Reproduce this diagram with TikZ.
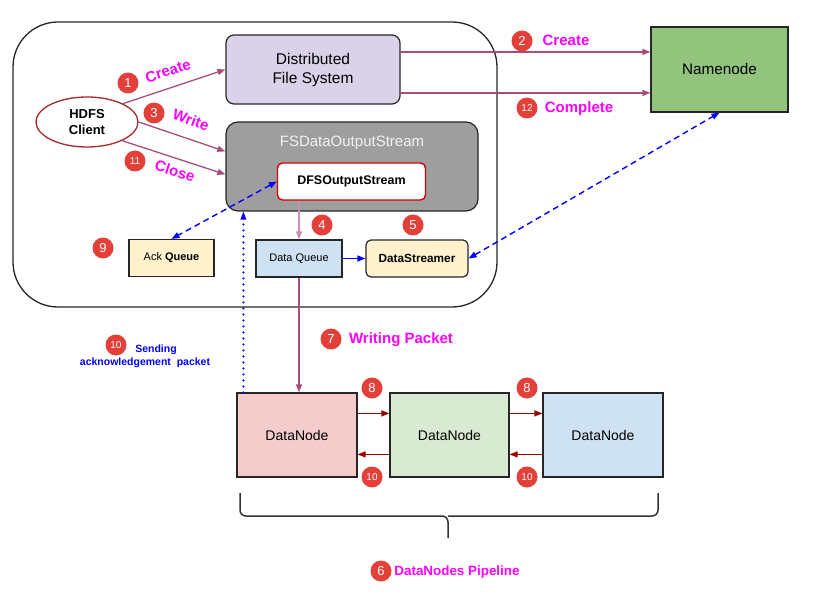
\documentclass[tikz,border=0pt]{standalone}
\usepackage{fontspec}
\setmainfont{Liberation Sans}
\usetikzlibrary{shapes.geometric,arrows.meta,calc}
\definecolor{mauve}{HTML}{A64D79}
\definecolor{lmauve}{HTML}{C98FB2}
\definecolor{badgered}{HTML}{E3403A}
\definecolor{lav}{HTML}{D9D2E9}
\definecolor{nngreen}{HTML}{93C47D}
\definecolor{yel}{HTML}{FFF2CC}
\definecolor{lblue}{HTML}{CFE2F3}
\definecolor{lred}{HTML}{F4CCCC}
\definecolor{lgreen}{HTML}{D9EAD3}
\definecolor{dred}{HTML}{990000}
\definecolor{ellred}{HTML}{A52A2A}
\definecolor{fsgray}{HTML}{9E9E9E}
\definecolor{magent}{HTML}{FF00FF}
\begin{document}
\begin{tikzpicture}[x=1pt,y=-1pt,
  box/.style={draw=black!85,line width=1.2pt,inner sep=0pt},
  badge/.style={circle,fill=badgered,text=white,inner sep=0pt,minimum size=21pt,font=\fontsize{13}{13}\selectfont},
  sbadge/.style={badge,font=\fontsize{10}{10}\selectfont},
  lbl/.style={text=magent,font=\bfseries\fontsize{15}{15}\selectfont,inner sep=0pt},
  marrow/.style={draw=mauve,line width=1.3pt,-{Triangle[length=8pt,width=6pt]}},
  barrow/.style={draw=blue,line width=1.4pt,dash pattern=on 6pt off 4pt,{Triangle[length=8pt,width=6pt]}-{Triangle[length=8pt,width=6pt]}},
  rarrow/.style={draw=dred,line width=1.3pt,-{Triangle[length=8pt,width=6pt]}}
]
\useasboundingbox (0,0) rectangle (819,604);
% outer frame
\node[draw=black!85,line width=1.3pt,rounded corners=45pt,minimum width=484pt,minimum height=285pt] (outer) at (255,164.5) {};
% nodes
\node[box,fill=lav,rounded corners=8pt,minimum width=174pt,minimum height=69pt,align=center,font=\fontsize{15.5}{19}\selectfont] (dfs) at (313,69.5) {Distributed\\File System};
\node[draw=ellred,line width=1.3pt,fill=white,ellipse,minimum width=102pt,minimum height=50pt,inner sep=0pt,align=center,font=\bfseries\fontsize{13}{16}\selectfont] (client) at (87,122) {HDFS\\Client};
\node[box,fill=fsgray,rounded corners=12pt,minimum width=252pt,minimum height=89pt] (fsd) at (352,166.5) {};
\node[text=black!5,font=\fontsize{15}{15}\selectfont,inner sep=0pt] (fsdt) at (352,143) {FSDataOutputStream};
\node[draw=red!85!black,line width=1.4pt,fill=white,rounded corners=5pt,minimum width=148pt,minimum height=37pt,font=\bfseries\fontsize{12.5}{12.5}\selectfont] (dfsos) at (351.5,181.5) {DFSOutputStream};
\node[box,fill=yel,minimum width=85pt,minimum height=37pt,font=\fontsize{11}{11}\selectfont] (ack) at (171.5,258) {Ack \textbf{Queue}};
\node[box,fill=lblue,minimum width=86pt,minimum height=37pt,font=\fontsize{11}{11}\selectfont] (dq) at (299,258.5) {Data Queue};
\node[box,fill=yel,rounded corners=5pt,minimum width=102pt,minimum height=37pt,font=\bfseries\fontsize{11.8}{11.8}\selectfont] (ds) at (417,258.5) {DataStreamer};
\node[box,fill=nngreen,minimum width=137pt,minimum height=85pt,font=\fontsize{15.3}{15.3}\selectfont] (nn) at (719.5,69.5) {Namenode};
\node[box,fill=lred,minimum width=120pt,minimum height=84pt,font=\fontsize{14}{14}\selectfont] (dn1) at (297,435) {DataNode};
\node[box,fill=lgreen,minimum width=119pt,minimum height=84pt,font=\fontsize{14}{14}\selectfont] (dn2) at (449.5,435) {DataNode};
\node[box,fill=lblue,minimum width=120pt,minimum height=84pt,font=\fontsize{14}{14}\selectfont] (dn3) at (603,435) {DataNode};
% connectors
\draw[marrow] (client.27) -- (dfs.west);
\draw[marrow] (client.east) -- ($(fsd.north west)+(0,30)$);
\draw[marrow] (client.-28) -- ($(fsd.north west)+(0,53)$);
\coordinate (c2) at ($(dfs.north east)+(0,17.5)$);
\draw[marrow] (c2) -- (c2 -| nn.west);
\coordinate (c12) at ($(dfs.north east)+(0,58.5)$);
\draw[marrow] (c12) -- (c12 -| nn.west);
\draw[draw=lmauve,line width=1.3pt,-{Triangle[length=8pt,width=6pt]}] (dfsos.south -| dq.north) -- (dq.north);
\draw[draw=blue,line width=1.4pt,-{Triangle[length=8pt,width=6pt]}] (dq.east) -- (ds.west);
\draw[marrow] (dq.south) -- (dq.south |- dn1.north);
\draw[barrow] (dfsos.west) -- (ack.north);
\draw[barrow] (ds.east) -- (nn.south);
\coordinate (dt) at ($(dn1.north west)+(7,0)$);
\draw[draw=blue,line width=2.4pt,line cap=round,dash pattern=on 0pt off 6pt,-{Triangle[length=8pt,width=6pt,line width=0pt]}] (dt) -- (dt |- fsd.south);
\coordinate (a1) at ($(dn1.north east)+(0,21)$);
\draw[rarrow] (a1) -- (a1 -| dn2.west);
\coordinate (a2) at ($(dn2.north east)+(0,21)$);
\draw[rarrow] (a2) -- (a2 -| dn3.west);
\coordinate (b1) at ($(dn2.north west)+(0,62)$);
\draw[rarrow] (b1) -- (b1 -| dn1.east);
\coordinate (b2) at ($(dn3.north west)+(0,62)$);
\draw[rarrow] (b2) -- (b2 -| dn2.east);
% brace
\draw[black!80,line width=1.5pt,rounded corners=6pt] (240,493) -- (240,516) -- (448,516) -- (448,538);
\draw[black!80,line width=1.5pt,rounded corners=6pt] (658,493) -- (658,516) -- (448,516);
% badges and labels
\node[badge] (b1n) at (128,83) {1};
\node[lbl,rotate=18] (l1) at (168,71) {Create};
\node[badge] (b3n) at (154,113) {3};
\node[lbl,rotate=-20] (l3) at (191,120) {Write};
\node[sbadge] (b11n) at (135,161) {11};
\node[lbl,rotate=-18] (l11) at (175,171) {Close};
\node[badge] (b2n) at (522,41) {2};
\node[lbl] (l2) at (566,40) {Create};
\node[sbadge] (b12n) at (527,108) {12};
\node[lbl] (l12) at (579,109) {Complete};
\node[badge] (b4n) at (322,225) {4};
\node[badge] (b5n) at (413,225) {5};
\node[badge] (b9n) at (103,248) {9};
\node[badge] (b7n) at (331,339) {7};
\node[lbl] (l7) at (401,340) {Writing Packet};
\node[sbadge] (b10n) at (116,345) {10};
\node[text=blue,font=\bfseries\fontsize{10.5}{13}\selectfont,inner sep=0pt] (l10a) at (156,350) {Sending};
\node[text=blue,font=\bfseries\fontsize{10.5}{13}\selectfont,inner sep=0pt] (l10b) at (145,363) {acknowledgement\ \ packet};
\node[badge] (b8a) at (372,388) {8};
\node[badge] (b8b) at (527,388) {8};
\node[sbadge] (b10a) at (372,477) {10};
\node[sbadge] (b10b) at (527,477) {10};
\node[badge] (b6n) at (381,571) {6};
\node[lbl,font=\bfseries\fontsize{13.4}{13.4}\selectfont] (l6) at (457,572) {DataNodes Pipeline};
\end{tikzpicture}
\end{document}
